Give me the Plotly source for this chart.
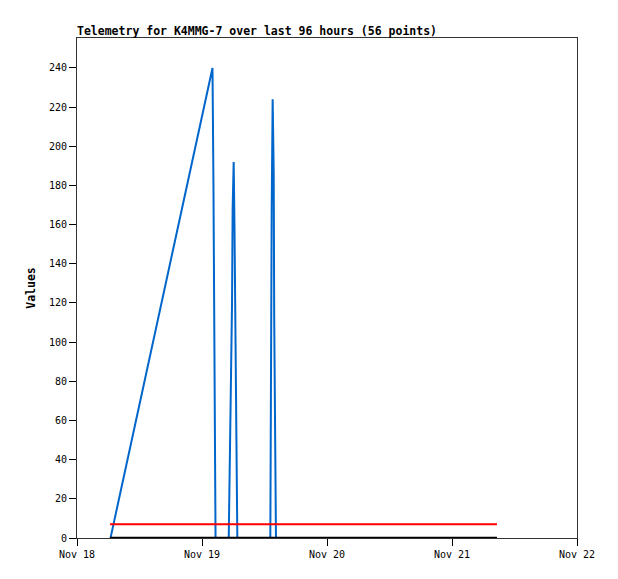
import plotly.graph_objects as go

# Blue series (telemetry channel values)
blue_times = [
    "2024-11-18 06:26", "2024-11-19 02:01", "2024-11-19 02:12", "2024-11-19 02:24",
    "2024-11-19 02:36", "2024-11-19 05:08", "2024-11-19 05:14", "2024-11-19 05:26",
    "2024-11-19 05:38", "2024-11-19 05:46", "2024-11-19 05:53", "2024-11-19 06:05",
    "2024-11-19 06:14", "2024-11-19 06:24", "2024-11-19 06:40", "2024-11-19 06:47",
    "2024-11-19 13:07", "2024-11-19 13:11", "2024-11-19 13:23", "2024-11-19 13:34",
    "2024-11-19 13:46", "2024-11-19 13:52", "2024-11-19 14:01", "2024-11-19 14:12",
    "2024-11-21 08:38",
]
blue_values = [
    0, 240, 180, 60,
    0, 0, 16, 48,
    80, 120, 168, 192,
    160, 96, 32, 0,
    0, 56, 168, 224,
    187, 112, 38, 0,
    0,
]

# Red series (constant)
red_times = ["2024-11-18 06:20", "2024-11-21 08:38"]
red_values = [7, 7]

# Black series (zero)
black_times = ["2024-11-18 06:20", "2024-11-21 08:38"]
black_values = [0, 0]

x_tick_vals = ["2024-11-18", "2024-11-19", "2024-11-20", "2024-11-21", "2024-11-22"]
x_tick_text = ["Nov 18", "Nov 19", "Nov 20", "Nov 21", "Nov 22"]

title_text = "Telemetry for K4MMG-7 over last 96 hours (56 points)"
y_title = "Values"

mono = "DejaVu Sans Mono"

W, H = 610, 571  # page has an 8px body margin

fig = go.Figure()
fig.add_trace(go.Scatter(x=blue_times, y=blue_values, mode="lines",
                         line=dict(color="#0066cc", width=2), showlegend=False))
fig.add_trace(go.Scatter(x=black_times, y=black_values, mode="lines",
                         line=dict(color="#000000", width=2.5), showlegend=False))
fig.add_trace(go.Scatter(x=red_times, y=red_values, mode="lines",
                         line=dict(color="#ff0000", width=2), showlegend=False))

fig.update_layout(
    width=W, height=H,
    margin=dict(l=69, r=41, t=30, b=41),
    paper_bgcolor="white", plot_bgcolor="white",
    title=dict(text="<b>" + title_text + "</b>", x=69/W, xanchor="left",
               y=1 - 23/H, yanchor="middle",
               font=dict(family=mono, size=11.5, color="black")),
    xaxis=dict(range=["2024-11-18", "2024-11-22"], tickvals=x_tick_vals,
               ticktext=x_tick_text, ticks="outside", ticklen=7, tickcolor="black",
               showgrid=False, zeroline=False, showline=True, linecolor="#333",
               linewidth=1, mirror=True,
               tickfont=dict(family=mono, size=10, color="black")),
    yaxis=dict(range=[0, 255.3], dtick=20, tick0=0, ticks="outside", ticklen=7,
               tickcolor="black", showgrid=False, zeroline=False, showline=True,
               linecolor="#333", linewidth=1, mirror=True,
               title=dict(text="<b>" + y_title + "</b>", standoff=10,
                          font=dict(family=mono, size=11.5, color="black")),
               tickfont=dict(family=mono, size=10, color="black")),
)

fig.write_html("out.html")
